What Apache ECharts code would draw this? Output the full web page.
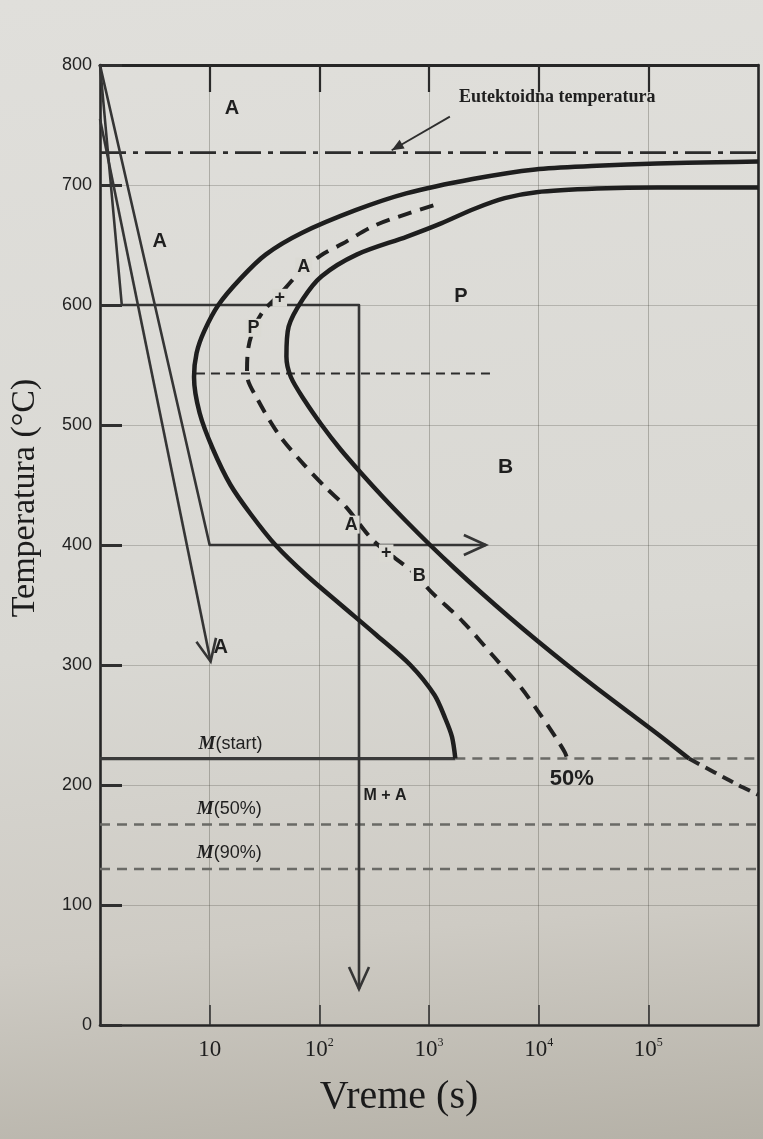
<!DOCTYPE html>
<html><head><meta charset="utf-8">
<script src="https://cdn.jsdelivr.net/npm/echarts@6/dist/echarts.min.js"></script>
<style>
html,body{margin:0;padding:0;}
body{background:linear-gradient(175deg,#e0dfdb 0%,#d9d8d3 55%,#cecbc4 80%,#b5b1a7 100%);}
#c{width:763px;height:1139px;}
</style></head><body><div id="c"></div>
<script>
// ---- data (time in s, temperature in °C) ----
const startTime = [1e6, 420000, 120000, 34000, 9300, 2500, 620, 214, 69, 32.4, 19.1, 12.0, 8.9, 7.6, 7.2, 8.1, 10.7, 15.5, 24.0, 39.8, 75.9, 158, 331, 676, 1122, 1413, 1622, 1738];
const startTemp = [719.5, 719, 718, 716, 713, 705, 693, 679, 660, 642, 622, 600, 578, 560, 540, 510, 480, 450, 425, 400, 375, 350, 325, 300, 275, 255, 240, 222];
const finishTime = [1e6, 417000, 120000, 34000, 9550, 4900, 2570, 1290, 631, 219, 105, 70.8, 52.5, 50.1, 55, 74, 105, 155, 240, 380, 617, 1023, 1738, 3020, 5370, 9772, 18197, 34674, 67608, 131826, 234423];
const finishTemp = [698, 698, 698, 697, 694, 689, 680, 668, 657, 642, 624, 605, 582, 557, 540, 520, 500, 480, 460, 440, 420, 400, 380, 360, 340, 320, 300, 280, 260, 240, 222];
const finishBelowMsTime = [234423, 660000, 1e6];
const finishBelowMsTemp = [222, 200, 192];
const halfTime = [1096, 631, 316, 162, 102, 66, 43.6, 30.9, 25.1, 22.4, 21.9, 27.5, 42.7, 72.4, 117, 174, 316, 724, 1047, 2042, 3981, 6918, 9772, 14454, 17378, 18200];
const halfTemp = [683, 676, 666, 651, 641, 627, 609, 595, 580, 563, 542, 521, 492, 467, 447, 432, 403, 377, 361, 336, 306, 281, 262, 239, 227, 222];
const eutectoidTemp = 727;
const msTemp = 222, m50Temp = 167, m90Temp = 130;
const noseTemp = 543, noseTime = [7.5, 3900];
const path1Time = [1, 1.58, 230, 230], path1Temp = [800, 600, 600, 30];
const path2Time = [1, 10, 3300], path2Temp = [800, 400, 400];
const path3Time = [1, 10.2], path3Temp = [755, 303];
const pointerTime = [1550, 457], pointerTemp = [757, 729];
const decadeTicks = [10, 100, 1000, 10000, 100000];
const labelText = ['A', 'A', 'P', 'B', 'A', 'A', '+', 'P', 'A', '+', 'B', 'M(start)', 'M(50%)', 'M(90%)', 'M + A', '50%', 'Eutektoidna temperatura'];
const labelTime = [16, 3.5, 1950, 5000, 12.6, 72, 43.6, 25.1, 195, 407, 813, 15.5, 15.1, 15.1, 250, 20000, 1860];
const labelTemp = [764, 653, 607, 465, 315, 632, 606, 581, 417, 393, 374, 234, 180, 143, 191, 205, 773];
const labelKind = ['region', 'region', 'region', 'regionB', 'region', 'along', 'along', 'along', 'along', 'along', 'along', 'm', 'm', 'm', 'ma', 'pct', 'eut'];
const xMin = 1, xMax = 1e6, yMin = 0, yMax = 800, yStep = 100;

// ---- helpers ----
const zip = (a, b) => a.map((v, i) => [v, b[i]]);
const sans = 'Liberation Sans, Arial, sans-serif';
const serif = 'Liberation Serif, Times New Roman, serif';
const paper = 'rgba(219,218,212,1)';
const ink = '#1f1f1f';

function lineSeries(data, color, width, type, smooth, z) {
  return {type: 'line', data: data, symbol: 'none', smooth: smooth || false, silent: true, z: z || 3,
    lineStyle: {color: color, width: width, type: type || 'solid', cap: 'butt', join: 'round'}};
}
function last(arr) { return arr[arr.length - 1]; }
function prev(arr) { return arr[arr.length - 2]; }

function labelFor(kind, text) {
  const base = {show: true, position: 'inside', color: ink, fontFamily: sans, textBorderWidth: 0, opacity: 1, formatter: text};
  if (kind === 'region') return Object.assign(base, {fontSize: 20, fontWeight: 'bold'});
  if (kind === 'regionB') return Object.assign(base, {fontSize: 21, fontWeight: 'bold'});
  if (kind === 'along') return Object.assign(base, {fontSize: 18, fontWeight: 'bold', backgroundColor: paper, padding: [0, 2, 0, 2]});
  if (kind === 'm') return Object.assign(base, {
    formatter: '{m|M}{t|' + text.slice(1) + '}',
    rich: {m: {fontFamily: serif, fontStyle: 'italic', fontWeight: 'bold', fontSize: 19, color: ink},
           t: {fontFamily: sans, fontSize: 18, color: ink}}});
  if (kind === 'ma') return Object.assign(base, {position: 'right', distance: 0, fontSize: 16, fontWeight: 'bold'});
  if (kind === 'pct') return Object.assign(base, {fontSize: 22, fontWeight: 'bold'});
  if (kind === 'eut') return Object.assign(base, {position: 'right', distance: 0, fontFamily: serif, fontSize: 18, fontWeight: 'bold'});
  return base;
}

const arrowData = [
  [prev(path1Time), prev(path1Temp), last(path1Time), last(path1Temp), 0],
  [prev(path2Time), prev(path2Temp), last(path2Time), last(path2Temp), 0],
  [prev(path3Time), prev(path3Temp), last(path3Time), last(path3Temp), 0],
  [pointerTime[0], pointerTemp[0], pointerTime[1], pointerTemp[1], 1]
];

function renderArrow(params, api) {
  const a = api.coord([api.value(0), api.value(1)]);
  const b = api.coord([api.value(2), api.value(3)]);
  const kind = api.value(4);
  const dx = b[0] - a[0], dy = b[1] - a[1];
  const len = Math.hypot(dx, dy) || 1;
  const ux = dx / len, uy = dy / len;
  const L = kind === 1 ? 12 : 22, W = kind === 1 ? 5 : 10;
  const p1 = [b[0] - ux * L - uy * W, b[1] - uy * L + ux * W];
  const p2 = [b[0] - ux * L + uy * W, b[1] - uy * L - ux * W];
  if (kind === 1) return {type: 'polygon', shape: {points: [b, p1, p2]}, style: {fill: '#2e2e2e'}};
  return {type: 'polyline', shape: {points: [p1, b, p2]}, style: {stroke: '#353535', lineWidth: 2.6, fill: null}};
}

const chart = echarts.init(document.getElementById('c'), null, {renderer: 'canvas'});
const frameLine = {show: true, onZero: false, lineStyle: {color: '#262626', width: 2.6}};

const option = {
  backgroundColor: 'transparent',
  animation: false,
  grid: {left: 100, right: 5, top: 65, bottom: 114, containLabel: false},
  xAxis: [{
    type: 'log', logBase: 10, min: xMin, max: xMax, position: 'bottom',
    axisLine: frameLine,
    axisTick: {show: true, inside: true, length: 20, customValues: decadeTicks, lineStyle: {color: '#333', width: 1.6}},
    axisLabel: {
      margin: 12, customValues: decadeTicks,
      formatter: function (v) {
        const e = Math.round(Math.log10(v));
        if (e === 1) return '{b|10}';
        return '{b|10}{s|' + e + '}';
      },
      rich: {b: {fontFamily: serif, fontSize: 23, color: '#1e1e1e', lineHeight: 26},
             s: {fontFamily: serif, fontSize: 12, color: '#1e1e1e', lineHeight: 13, verticalAlign: 'top'}}
    },
    splitLine: {show: true, lineStyle: {color: 'rgba(60,60,50,0.3)', width: 1}},
    name: 'Vreme (s)', nameLocation: 'middle', nameGap: 52,
    nameTextStyle: {fontFamily: serif, fontSize: 40, color: '#1a1a1a', padding: [0, 60, 0, 0]}
  }, {
    type: 'log', logBase: 10, min: xMin, max: xMax, position: 'top',
    axisLine: {show: true, onZero: false, lineStyle: {color: '#262626', width: 3}},
    axisTick: {show: true, inside: true, length: 27, customValues: decadeTicks, lineStyle: {color: '#2a2a2a', width: 2.2}},
    axisLabel: {show: false, customValues: decadeTicks}, splitLine: {show: false}
  }],
  yAxis: [{
    type: 'value', min: yMin, max: yMax, interval: yStep, position: 'left',
    axisLine: frameLine,
    axisTick: {show: true, inside: true, length: 22, lineStyle: {color: '#303030', width: 3}},
    axisLabel: {fontFamily: sans, fontSize: 18, color: '#222', margin: 8},
    splitLine: {show: true, lineStyle: {color: 'rgba(60,60,50,0.25)', width: 1}},
    name: 'Temperatura (°C)', nameLocation: 'middle', nameGap: 58,
    nameTextStyle: {fontFamily: serif, fontSize: 34, color: '#1c1c1c', padding: [0, 0, 0, 94]}
  }, {
    type: 'value', min: yMin, max: yMax, interval: yStep, position: 'right',
    axisLine: frameLine, axisTick: {show: false}, axisLabel: {show: false}, splitLine: {show: false}
  }],
  series: [
    lineSeries(zip(startTime, startTemp), '#1e1e1e', 4.5, 'solid', 0.3, 5),
    lineSeries(zip(finishTime, finishTemp), '#1e1e1e', 4.5, 'solid', 0.3, 5),
    lineSeries(zip(finishBelowMsTime, finishBelowMsTemp), '#262626', 4, [12, 7], 0.2, 5),
    lineSeries(zip(halfTime, halfTemp), '#202020', 4, [14, 9], 0.3, 5),
    lineSeries([[xMin, eutectoidTemp], [xMax, eutectoidTemp]], '#2c2c2c', 2.6, [26, 7, 5, 7]),
    lineSeries([[xMin, msTemp], [last(startTime), msTemp]], '#3a3a3a', 3.2),
    lineSeries([[last(startTime), msTemp], [xMax, msTemp]], '#6a6a66', 2.5, [10, 7]),
    lineSeries([[xMin, m50Temp], [xMax, m50Temp]], '#6a6a66', 2.5, [10, 7]),
    lineSeries([[xMin, m90Temp], [xMax, m90Temp]], '#6a6a66', 2.5, [10, 7]),
    lineSeries([[noseTime[0], noseTemp], [noseTime[1], noseTemp]], '#2c2c2c', 2, [9, 6]),
    lineSeries(zip(path1Time, path1Temp), '#353535', 2.6, 'solid', false, 4),
    lineSeries(zip(path2Time, path2Temp), '#353535', 2.6, 'solid', false, 4),
    lineSeries(zip(path3Time, path3Temp), '#353535', 2.6, 'solid', false, 4),
    lineSeries(zip(pointerTime, pointerTemp), '#2e2e2e', 1.8, 'solid', false, 4),
    {type: 'custom', coordinateSystem: 'cartesian2d', renderItem: renderArrow, data: arrowData,
     encode: {x: [0, 2], y: [1, 3]}, silent: true, z: 6},
    {type: 'scatter', symbolSize: 1, itemStyle: {color: 'rgba(0,0,0,0)', opacity: 1}, silent: true, z: 10,
     data: labelText.map((s, i) => ({value: [labelTime[i], labelTemp[i]], label: labelFor(labelKind[i], s)})),
     label: {show: true}}
  ]
};
chart.setOption(option);
</script></body></html>
